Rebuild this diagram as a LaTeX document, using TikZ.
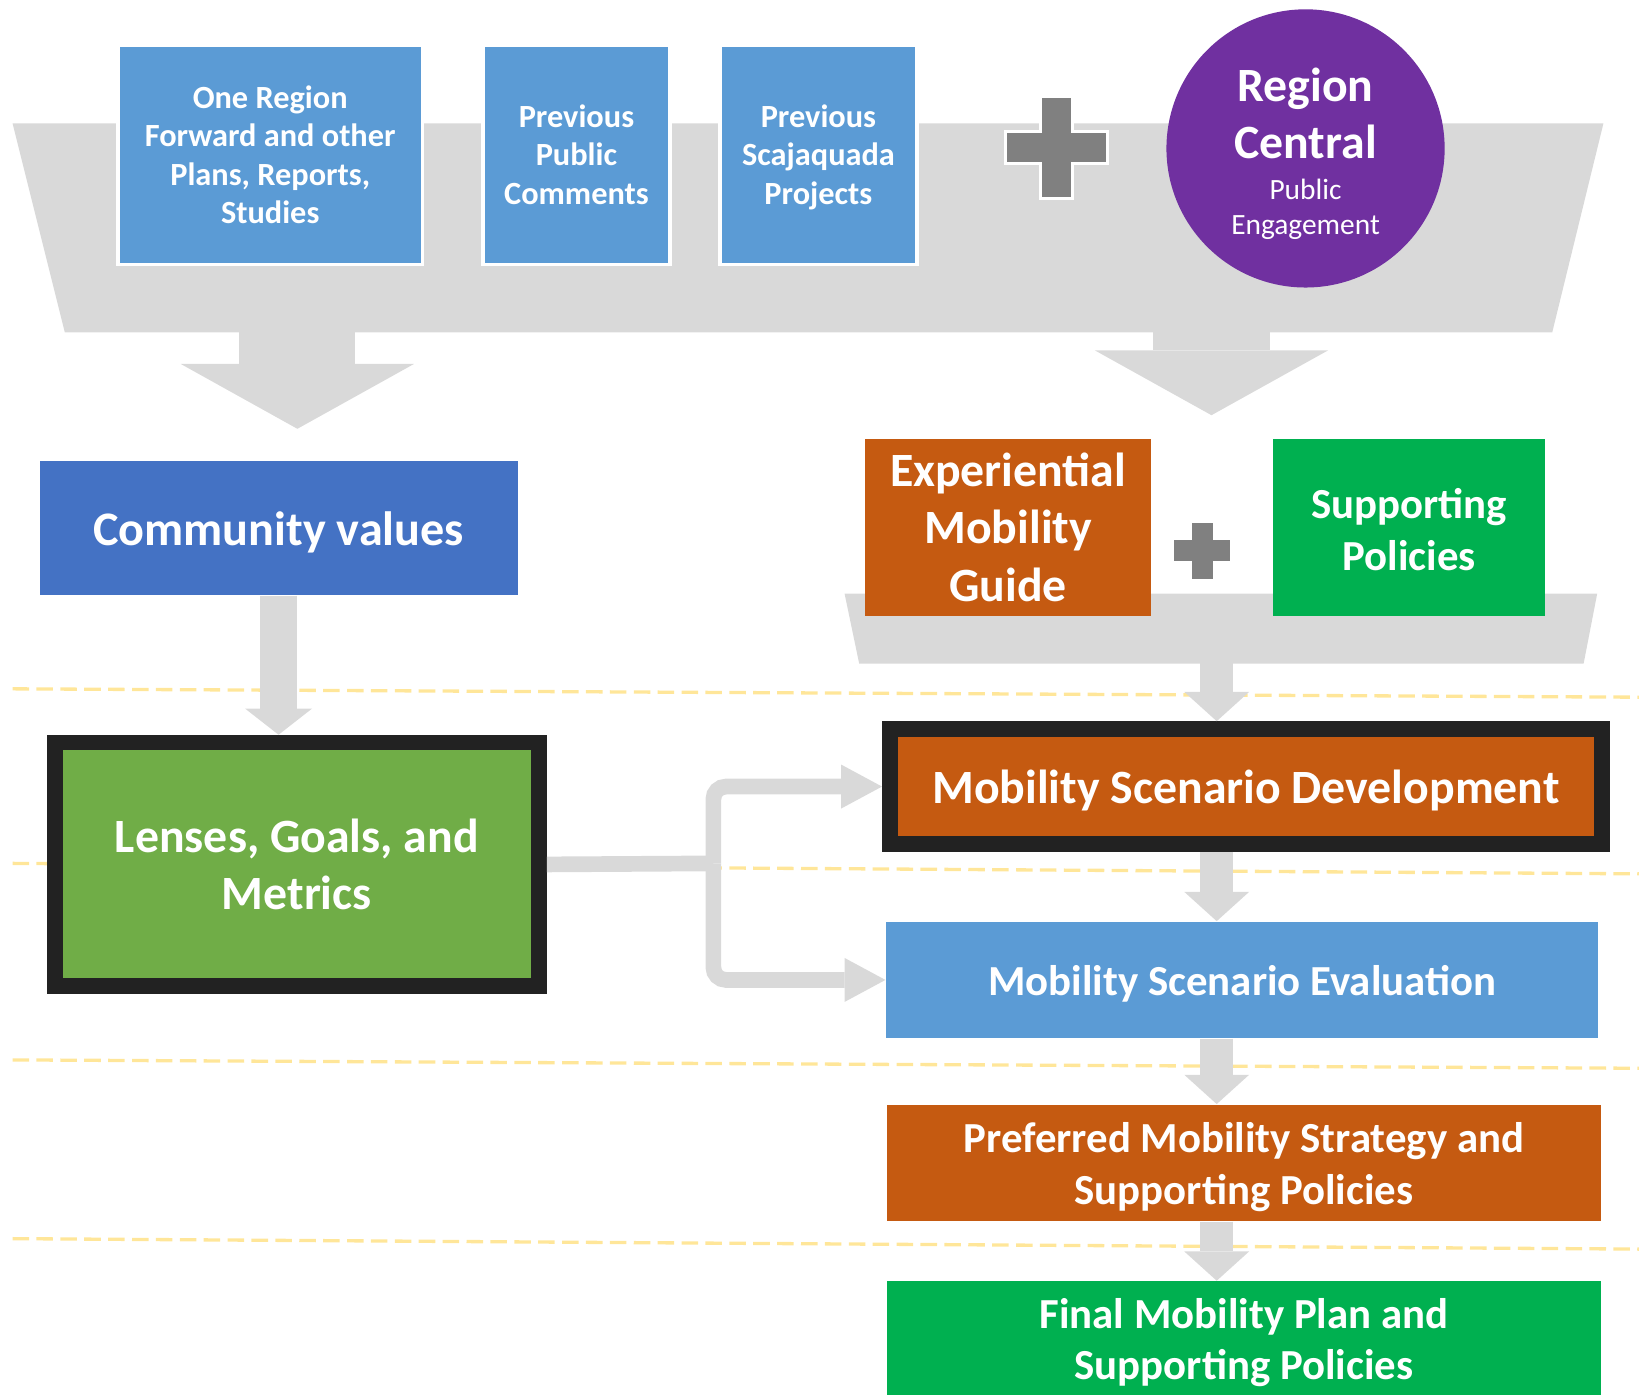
\documentclass[tikz,border=0pt]{standalone}
\usepackage{fontspec}
\setmainfont{Carlito}
\usepackage{tikz}
\usetikzlibrary{arrows.meta}

\definecolor{boxblue}{HTML}{5B9BD5}
\definecolor{valblue}{HTML}{4472C4}
\definecolor{regpurple}{HTML}{7030A0}
\definecolor{guideorange}{HTML}{C55A11}
\definecolor{lensgreen}{HTML}{70AD47}
\definecolor{policygreen}{HTML}{00B050}
\definecolor{hoppergray}{HTML}{D9D9D9}
\definecolor{plusgray}{HTML}{808080}
\definecolor{framegray}{HTML}{222222}
\definecolor{stageyellow}{HTML}{FFE699}

\tikzset{
  box/.style={rectangle, inner sep=0pt, text=white, align=center},
  bigtext/.style={font=\fontsize{13}{15.6}\selectfont\bfseries},
  midtext/.style={font=\fontsize{11.65}{14}\selectfont\bfseries},
  smalltext/.style={font=\fontsize{8.8}{10.5}\selectfont\bfseries},
  framed/.style={draw=framegray, line width=0.15cm},
  stageline/.style={draw=stageyellow, line width=0.9pt, dash pattern=on 4.5pt off 2pt},
  flow/.style={draw=hoppergray, line width=0.32cm,
    -{Triangle[width=0.62cm, length=0.28cm, line width=0pt]}},
  hopperflow/.style={draw=hoppergray, line width=1.11cm,
    -{Triangle[width=2.23cm, length=0.62cm, line width=0pt]}},
  branch/.style={draw=hoppergray, line width=0.15cm, rounded corners=0.12cm},
  branchtip/.style={-{Triangle[width=0.42cm, length=0.39cm, line width=0pt]}},
  plussign/.style={fill=plusgray, draw=white, line width=0.8pt}
}

% plus mark: centre x, centre y, half arm, half bar
\newcommand{\plusmark}[4]{%
  \filldraw[plussign, shift={(#1,#2)}] (-#4,-#3) -- (#4,-#3) -- (#4,-#4) -- (#3,-#4)
    -- (#3,#4) -- (#4,#4) -- (#4,#3) -- (-#4,#3) -- (-#4,#4) -- (-#3,#4)
    -- (-#3,-#4) -- (-#4,-#4) -- cycle;}
% taller first line pushes a label down a little
\newcommand{\topgap}[1]{\rule{0pt}{#1}}

\begin{document}
\begin{tikzpicture}[x=0.01cm, y=-0.01cm]
\useasboundingbox (0,0) rectangle (1568,1334);

% stage separators
\foreach \ya/\yb in {659/667, 826/836, 1014/1022, 1185/1195}
  \draw[stageline] (12,\ya) -- (1568,\yb);

% hoppers
\fill[hoppergray] (12,118) -- (1534,118) -- (1485,318) -- (62,318) -- cycle;
\fill[hoppergray] (808,568) -- (1528,568) -- (1515,635) -- (822,635) -- cycle;
\coordinate (hopperL) at (284.5,316);
\coordinate (hopperR) at (1159,316);
\coordinate (hopperB) at (1164,633);

% inputs
\node[box, smalltext, fill=boxblue, draw=white, line width=1pt, minimum width=2.91cm, minimum height=2.10cm]
  (plans) at (258.5,148) {One Region\\Forward and other\\Plans, Reports,\\Studies};
\node[box, smalltext, fill=boxblue, draw=white, line width=1pt, minimum width=1.79cm, minimum height=2.10cm]
  (comments) at (551.5,148) {Previous\\Public\\Comments};
\node[box, smalltext, fill=boxblue, draw=white, line width=1pt, minimum width=1.88cm, minimum height=2.10cm]
  (projects) at (783,148) {\topgap{7.6pt}Previous\\Scajaquada\\Projects};
\plusmark{1010.5}{141}{49}{15.5}
\node[circle, fill=regpurple, text=white, align=center, inner sep=0pt, minimum size=2.66cm, bigtext]
  (region) at (1249,142) {\topgap{12pt}Region\\Central\\[-4.5pt]{\mdseries\fontsize{8}{9.7}\selectfont Public}\\[-5.9pt]{\mdseries\fontsize{8}{9.7}\selectfont Engagement}};

% values side
\node[box, fill=valblue, font=\fontsize{13.1}{15.6}\selectfont\bfseries, minimum width=4.57cm, minimum height=1.28cm]
  (values) at (266.5,505) {\topgap{11.6pt}Community values};
\node[box, framed, fill=lensgreen, bigtext, minimum width=4.63cm, minimum height=2.33cm]
  (lenses) at (284,827) {Lenses, Goals, and\\Metrics};

% scenario side
\node[box, fill=guideorange, bigtext, minimum width=2.73cm, minimum height=1.69cm]
  (guide) at (964.5,504.5) {Experiential\\Mobility\\Guide};
\plusmark{1150}{527}{28.5}{11.5}
\node[box, fill=policygreen, midtext, minimum width=2.60cm, minimum height=1.69cm]
  (policies) at (1348,504.5) {\topgap{9.3pt}Supporting\\Policies};
\node[box, framed, fill=guideorange, bigtext, minimum width=6.81cm, minimum height=1.10cm]
  (develop) at (1192,752.5) {\topgap{11.5pt}Mobility Scenario Development};
\node[box, fill=boxblue, midtext, minimum width=6.81cm, minimum height=1.11cm]
  (evaluate) at (1188.5,937.5) {\topgap{10.1pt}Mobility Scenario Evaluation};
\node[box, fill=guideorange, midtext, minimum width=6.82cm, minimum height=1.11cm]
  (preferred) at (1190,1112.5) {\topgap{10.5pt}Preferred Mobility Strategy and\\Supporting Policies};
\node[box, fill=policygreen, midtext, minimum width=6.82cm, minimum height=1.12cm]
  (final) at (1190,1282) {\topgap{9.6pt}Final Mobility Plan and\\Supporting Policies};

% arrows
\draw[hopperflow, shorten >=0.30cm] (hopperL) -- (hopperL |- values.north);
\draw[hopperflow, shorten >=0.22cm] (hopperR) -- (hopperR |- guide.north);
\draw[flow, line width=0.36cm, -{Triangle[width=0.64cm, length=0.25cm, line width=0pt]}]
  (values.south) -- (values.south |- lenses.north);
\draw[flow] (hopperB) -- (hopperB |- develop.north);
\draw[flow] (develop.south -| hopperB) -- (evaluate.north -| hopperB);
\draw[flow] (evaluate.south -| hopperB) -- (preferred.north -| hopperB);
\draw[flow] (preferred.south -| hopperB) -- (final.north -| hopperB);

\coordinate (fork) at (682.5,826);
\draw[branch] (lenses.east) -- (fork);
\draw[branch, branchtip] (fork) |- (develop.west);
\draw[branch, branchtip] (fork) |- (evaluate.west);
\end{tikzpicture}
\end{document}
